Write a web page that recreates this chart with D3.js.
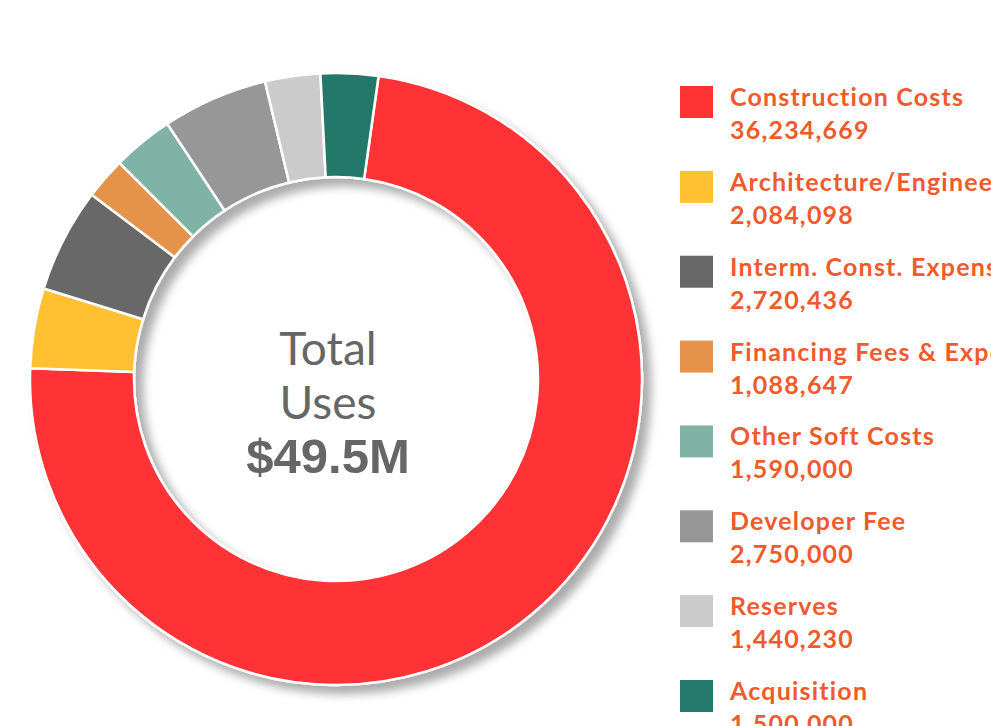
<!DOCTYPE html>
<html>
<head>
<meta charset="utf-8">
<script src="https://cdn.jsdelivr.net/npm/d3@7"></script>
<style>
  body { margin: 0; background: #fff; overflow: hidden; }
  svg { display: block; }
</style>
</head>
<body>
<div id="chart-area"></div>
<script>
// data
var categories = ["Construction Costs", "Architecture/Engineering", "Interm. Const. Expenses",
    "Financing Fees & Expenses", "Other Soft Costs", "Developer Fee", "Reserves", "Acquisition"];
var amounts = [36234669, 2084098, 2720436, 1088647, 1590000, 2750000, 1440230, 1500000];
var colors = ["#ff3234", "#ffc132", "#686868", "#e5934b", "#80b2a6", "#979797", "#cbcbcb", "#24796a"];
var centerLines = ["Total", "Uses", "$49.5M"];

var width = 991, height = 726;
var cx = 336, cy = 379;
var outerR = 306, innerR = 202;

var svg = d3.select("#chart-area")
    .append("svg")
    .attr("width", width)
    .attr("height", height);

// shadow under the ring
var defs = svg.append("defs");
var filter = defs.append("filter")
    .attr("id", "shadow")
    .attr("x", "-20%").attr("y", "-20%")
    .attr("width", "140%").attr("height", "140%");
filter.append("feDropShadow")
    .attr("dx", 8)
    .attr("dy", 8)
    .attr("stdDeviation", 5)
    .attr("flood-color", "#000")
    .attr("flood-opacity", 0.33);

var data = categories.map(function(c, i) {
    return { name: c, value: amounts[i], color: colors[i] };
});

var start = 8 * Math.PI / 180;
var pie = d3.pie()
    .sort(null)
    .value(function(d) { return d.value; })
    .startAngle(start)
    .endAngle(start + 2 * Math.PI);

var arc = d3.arc()
    .innerRadius(innerR)
    .outerRadius(outerR);

var g = svg.append("g")
    .attr("transform", "translate(" + cx + "," + cy + ")");

var ring = g.append("g")
    .attr("filter", "url(#shadow)");

ring.selectAll("path")
    .data(pie(data))
    .enter()
    .append("path")
    .attr("d", arc)
    .attr("fill", function(d) { return d.data.color; })
    .attr("stroke", "#fff")
    .attr("stroke-width", 2.5)
    .attr("stroke-linejoin", "round");

// center label
var center = g.append("g")
    .attr("transform", "translate(-8,0)")
    .attr("fill", "#666667")
    .attr("text-anchor", "middle");

center.append("text")
    .attr("y", -14)
    .attr("font-family", "Lato, sans-serif")
    .attr("font-size", "46px")
    .text(centerLines[0]);

center.append("text")
    .attr("y", 40)
    .attr("font-family", "Lato, sans-serif")
    .attr("font-size", "46px")
    .text(centerLines[1]);

center.append("text")
    .attr("y", 94)
    .attr("font-family", "'Liberation Sans', Arial, sans-serif")
    .attr("font-weight", "bold")
    .attr("font-size", "49px")
    .text(centerLines[2]);

// legend
var legendY = d3.scaleLinear()
    .domain([0, categories.length - 1])
    .range([86, 680]);

var fmt = d3.format(",");

var legend = svg.append("g")
    .attr("class", "legend");

var rows = legend.selectAll("g")
    .data(data)
    .enter()
    .append("g")
    .attr("transform", function(d, i) {
        return "translate(680," + legendY(i) + ")";
    });

rows.append("rect")
    .attr("width", 33)
    .attr("height", 32)
    .attr("fill", function(d) { return d.color; });

rows.append("text")
    .attr("x", 50)
    .attr("y", 20)
    .attr("font-family", "Lato, sans-serif")
    .attr("font-weight", "bold")
    .attr("font-size", "25px")
    .attr("letter-spacing", "1.2px")
    .attr("fill", "#f05a2c")
    .text(function(d) { return d.name; });

rows.append("text")
    .attr("x", 50)
    .attr("y", 53)
    .attr("font-family", "Lato, sans-serif")
    .attr("font-weight", "bold")
    .attr("font-size", "25px")
    .attr("letter-spacing", "1.2px")
    .attr("fill", "#f05a2c")
    .text(function(d) { return fmt(d.value); });
</script>
</body>
</html>
